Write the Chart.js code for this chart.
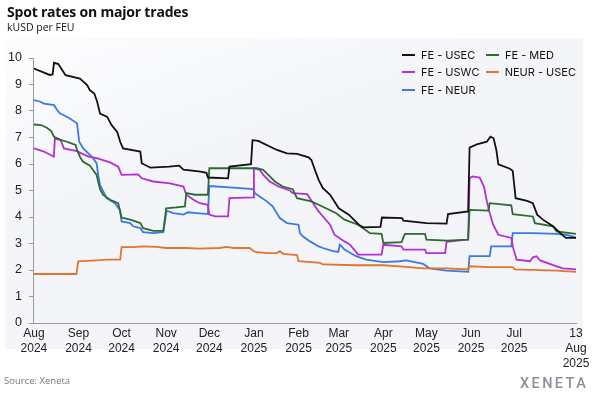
<!DOCTYPE html>
<html>
<head>
<meta charset="utf-8">
<script src="https://cdn.jsdelivr.net/npm/chart.js@4.4.1/dist/chart.umd.min.js"></script>
<style>
    body { margin: 0; background: #fff; }
    #wrap { position: relative; width: 600px; height: 395px; overflow: hidden; background: #fff; }
    #panel { position: absolute; left: 5px; top: 38px; width: 578px; height: 311px;
             background: linear-gradient(160deg, #fdfdfe 0%, #f3f5f9 35%, #f2f4f8 100%); }
    #chart { position: absolute; left: 0; top: 0; }
    .title { position: absolute; left: 7px; top: 2px; font: 700 14px 'Open Sans', sans-serif; color: #111; letter-spacing: -0.2px; }
    .subtitle { position: absolute; left: 7px; top: 20px; font: 400 10.5px 'Open Sans', sans-serif; color: #111; }
    #legend { position: absolute; left: 402px; top: 46px; display: grid; grid-template-columns: 84px 90px; grid-auto-rows: 17.5px;
              font: 400 11px 'Inter', sans-serif; color: #111; }
    #legend .item { display: flex; align-items: center; white-space: nowrap; }
    #legend .swatch { width: 13px; height: 2px; margin-right: 6px; }
    .source { position: absolute; left: 4px; top: 374px; font: 400 9.5px 'Open Sans', sans-serif; color: #777; }
    .logo { position: absolute; left: 520px; top: 375px; font: 500 14.5px 'Roboto', sans-serif; color: #8a9099; letter-spacing: 2.4px; }
</style>
</head>
<body>
<div id="wrap">
    <div id="panel"></div>
    <canvas id="chart" width="600" height="395"></canvas>
    <div class="title">Spot rates on major trades</div>
    <div class="subtitle">kUSD per FEU</div>
    <div id="legend"></div>
    <div class="source">Source: Xeneta</div>
    <div class="logo">XENETA</div>
</div>
<script>
// x values are days since 1 Aug 2024
const tickDays = [0, 31, 61, 92, 122, 153, 184, 212, 243, 273, 304, 334, 377];
const tickLabels = [
    ['Aug', '2024'], ['Sep', '2024'], ['Oct', '2024'], ['Nov', '2024'], ['Dec', '2024'],
    ['Jan', '2025'], ['Feb', '2025'], ['Mar', '2025'], ['Apr', '2025'], ['May', '2025'],
    ['Jun', '2025'], ['Jul', '2025'], ['13', 'Aug', '2025']
];

const seriesNames = ['FE - USEC', 'FE - MED', 'FE - USWC', 'NEUR - USEC', 'FE - NEUR'];

const feUsecDays = [0, 11, 13, 14, 17, 19, 22, 32, 37, 39, 42, 44, 46, 51, 54, 58, 60, 62, 74, 75, 81, 94, 101, 104, 116, 120, 121, 135, 136, 151, 152, 156, 169, 176, 183, 191, 193, 195, 198, 201, 206, 212, 219, 226, 229, 241, 242, 256, 257, 273, 287, 288, 302, 303, 308, 315, 317.5, 319.7, 321.6, 323, 331, 333, 335, 343, 347, 350, 354, 361, 366, 370, 377];
const feUsecRates = [9.6, 9.36, 9.38, 9.82, 9.77, 9.6, 9.35, 9.22, 8.98, 8.78, 8.66, 8.35, 7.9, 7.78, 7.47, 7.2, 6.84, 6.59, 6.47, 6.03, 5.86, 5.9, 5.94, 5.79, 5.71, 5.67, 5.49, 5.46, 5.9, 5.99, 6.9, 6.87, 6.53, 6.4, 6.38, 6.25, 6.15, 5.84, 5.4, 5.09, 4.84, 4.33, 4.09, 3.71, 3.61, 3.63, 3.98, 3.96, 3.86, 3.77, 3.75, 4.11, 4.21, 6.62, 6.74, 6.84, 7.03, 6.97, 6.53, 5.99, 5.82, 5.74, 4.71, 4.61, 4.52, 4.09, 3.9, 3.65, 3.39, 3.21, 3.21];

const feMedDays = [0, 5, 9, 12, 14, 19, 23, 26, 29, 30, 32, 34, 39, 41, 43.6, 44.7, 46, 48, 53, 58.6, 61, 67, 74, 76, 83, 90, 92, 99, 105, 106, 112, 121, 122, 155, 159.5, 163, 167.6, 173, 180, 183, 193, 198, 210, 216, 225.5, 233.7, 241.8, 243, 255.7, 258, 272, 273, 287, 302, 303, 316, 317, 332, 333, 347, 348.4, 361, 363.5, 377];
const feMedRates = [7.49, 7.47, 7.37, 7.24, 7.03, 6.9, 6.84, 6.78, 6.72, 6.53, 6.28, 6.09, 5.94, 5.78, 5.59, 5.34, 5.05, 4.84, 4.65, 4.52, 3.98, 3.9, 3.77, 3.58, 3.48, 3.48, 4.33, 4.36, 4.4, 4.9, 4.84, 4.84, 5.84, 5.84, 5.78, 5.59, 5.34, 5.15, 5.05, 4.71, 4.59, 4.46, 4.15, 3.9, 3.71, 3.39, 3.36, 3.02, 3.05, 3.36, 3.36, 3.15, 3.11, 3.15, 4.27, 4.24, 4.52, 4.44, 4.11, 4.02, 3.77, 3.65, 3.46, 3.36];

const feUswcDays = [0, 7, 11.6, 13.9, 14.6, 18.6, 20.9, 25.6, 30, 33, 38, 43.6, 48, 53, 58.6, 61, 72.5, 75, 83, 94.6, 104, 106, 111, 115.4, 121, 122, 126, 135, 136, 152.5, 153, 157, 159.5, 164, 170, 178, 180, 190, 198, 201, 206, 209, 216, 220, 225.5, 241.8, 243, 255.7, 257, 272, 273, 286, 287, 302, 303, 305, 310, 313, 315, 317, 319.4, 323, 332, 333, 335.7, 345, 347, 349.6, 352, 363.5, 368, 377];
const feUswcRates = [6.59, 6.47, 6.34, 6.28, 6.97, 6.9, 6.59, 6.53, 6.49, 6.4, 6.28, 6.22, 6.15, 6.06, 5.9, 5.59, 5.61, 5.46, 5.34, 5.27, 5.15, 4.84, 4.65, 4.52, 4.46, 4.09, 4.02, 4.02, 4.71, 4.74, 5.84, 5.78, 5.59, 5.34, 5.15, 5.0, 4.9, 4.86, 4.21, 4.02, 3.71, 3.33, 3.08, 2.95, 2.58, 2.58, 2.95, 2.89, 2.77, 2.77, 2.64, 2.64, 3.06, 3.15, 5.46, 5.53, 5.49, 5.15, 4.59, 4.15, 3.71, 3.33, 3.21, 2.89, 2.39, 2.33, 2.48, 2.52, 2.36, 2.14, 2.06, 2.02];

const neurUsecDays = [0, 29.6, 30.8, 46, 50.6, 60, 61, 69, 76, 85, 92, 106, 115, 129, 134, 139, 150, 153.7, 162, 169, 171, 173.4, 183, 184, 199, 201, 224, 243, 254.5, 270.7, 287, 302, 303, 317, 333, 334.5, 363.5, 377];
const neurUsecRates = [1.85, 1.85, 2.33, 2.37, 2.39, 2.39, 2.86, 2.86, 2.89, 2.87, 2.83, 2.83, 2.81, 2.83, 2.87, 2.83, 2.83, 2.68, 2.64, 2.64, 2.71, 2.61, 2.56, 2.33, 2.27, 2.21, 2.18, 2.18, 2.14, 2.06, 2.06, 2.02, 2.14, 2.11, 2.11, 2.02, 1.98, 1.93];

const feNeurDays = [0, 4.6, 7, 14, 16.3, 18, 21.6, 25, 28.5, 30, 31.5, 34.3, 37.8, 41.2, 43.6, 44.7, 46, 50.6, 56.3, 59.8, 61, 67, 69, 74, 76, 83, 90, 92.3, 97, 104, 107, 113, 121, 122, 136, 152.5, 153.7, 157, 162, 166, 171, 176, 184, 185, 187, 192, 198, 201, 208, 211.6, 212.8, 216, 224, 231, 243, 254.5, 259, 270.7, 275.4, 287, 302, 303, 317, 318, 332, 333, 347, 363.5, 370, 377];
const feNeurRates = [8.41, 8.35, 8.28, 8.22, 8.03, 7.91, 7.82, 7.72, 7.59, 7.53, 6.84, 6.59, 6.4, 6.22, 6.03, 5.59, 5.2, 4.71, 4.52, 4.27, 3.83, 3.77, 3.65, 3.58, 3.43, 3.39, 3.43, 4.24, 4.15, 4.09, 4.18, 4.15, 4.11, 5.17, 5.12, 5.05, 4.9, 4.77, 4.59, 4.4, 3.96, 3.77, 3.71, 3.39, 3.27, 3.08, 2.89, 2.83, 2.71, 2.68, 2.96, 2.77, 2.52, 2.39, 2.3, 2.33, 2.36, 2.23, 2.06, 1.98, 1.93, 2.52, 2.52, 2.89, 2.89, 3.39, 3.39, 3.36, 3.33, 3.23];

const yTicks = [0, 1, 2, 3, 4, 5, 6, 7, 8, 9, 10];

function toPoints(days, rates) {
    return days.map((d, i) => ({ x: d, y: rates[i] }));
}

function makeSeries(label, days, rates, color) {
    return {
        label: label,
        data: toPoints(days, rates),
        borderColor: color,
        backgroundColor: color,
        borderWidth: 1.8,
        pointRadius: 0,
        tension: 0,
        fill: false
    };
}

const datasets = [
    makeSeries(seriesNames[0], feUsecDays, feUsecRates, '#111111'),
    makeSeries(seriesNames[1], feMedDays, feMedRates, '#2e6b2c'),
    makeSeries(seriesNames[2], feUswcDays, feUswcRates, '#b42fd3'),
    makeSeries(seriesNames[3], neurUsecDays, neurUsecRates, '#e2742f'),
    makeSeries(seriesNames[4], feNeurDays, feNeurRates, '#3a7ae2')
];

const chart = new Chart(document.getElementById('chart'), {
    type: 'line',
    data: { datasets: datasets },
    options: {
        responsive: false,
        animation: false,
        layout: { padding: { left: 1, right: 24, top: 58, bottom: 21 } },
        plugins: {
            legend: { display: false },
            tooltip: { enabled: false }
        },
        scales: {
            x: {
                type: 'linear',
                min: tickDays[0],
                max: tickDays[tickDays.length - 1],
                afterBuildTicks: (scale) => {
                    scale.ticks = tickDays.map(v => ({ value: v }));
                },
                ticks: {
                    autoSkip: false,
                    maxRotation: 0,
                    padding: 3,
                    color: '#222',
                    font: { family: 'Liberation Sans', size: 12, lineHeight: 1.25 },
                    callback: (value, index) => tickLabels[index]
                },
                grid: { display: false, drawTicks: false },
                border: { display: true, color: '#9a9a9a', width: 1 }
            },
            y: {
                min: yTicks[0],
                max: yTicks[yTicks.length - 1],
                afterBuildTicks: (scale) => {
                    scale.ticks = yTicks.map(v => ({ value: v }));
                },
                ticks: {
                    padding: 7,
                    color: '#222',
                    font: { family: 'Liberation Sans', size: 12.5 }
                },
                grid: { display: true, drawOnChartArea: false, drawTicks: true, tickLength: 5, color: '#9a9a9a' },
                border: { display: true, color: '#9a9a9a', width: 1 }
            }
        }
    }
});

// legend laid out in two columns, like the original
const legendEl = document.getElementById('legend');
chart.data.datasets.forEach(ds => {
    const item = document.createElement('div');
    item.className = 'item';
    item.innerHTML = `<span class="swatch" style="background:${ds.borderColor}"></span>${ds.label}`;
    legendEl.appendChild(item);
});
</script>
</body>
</html>
